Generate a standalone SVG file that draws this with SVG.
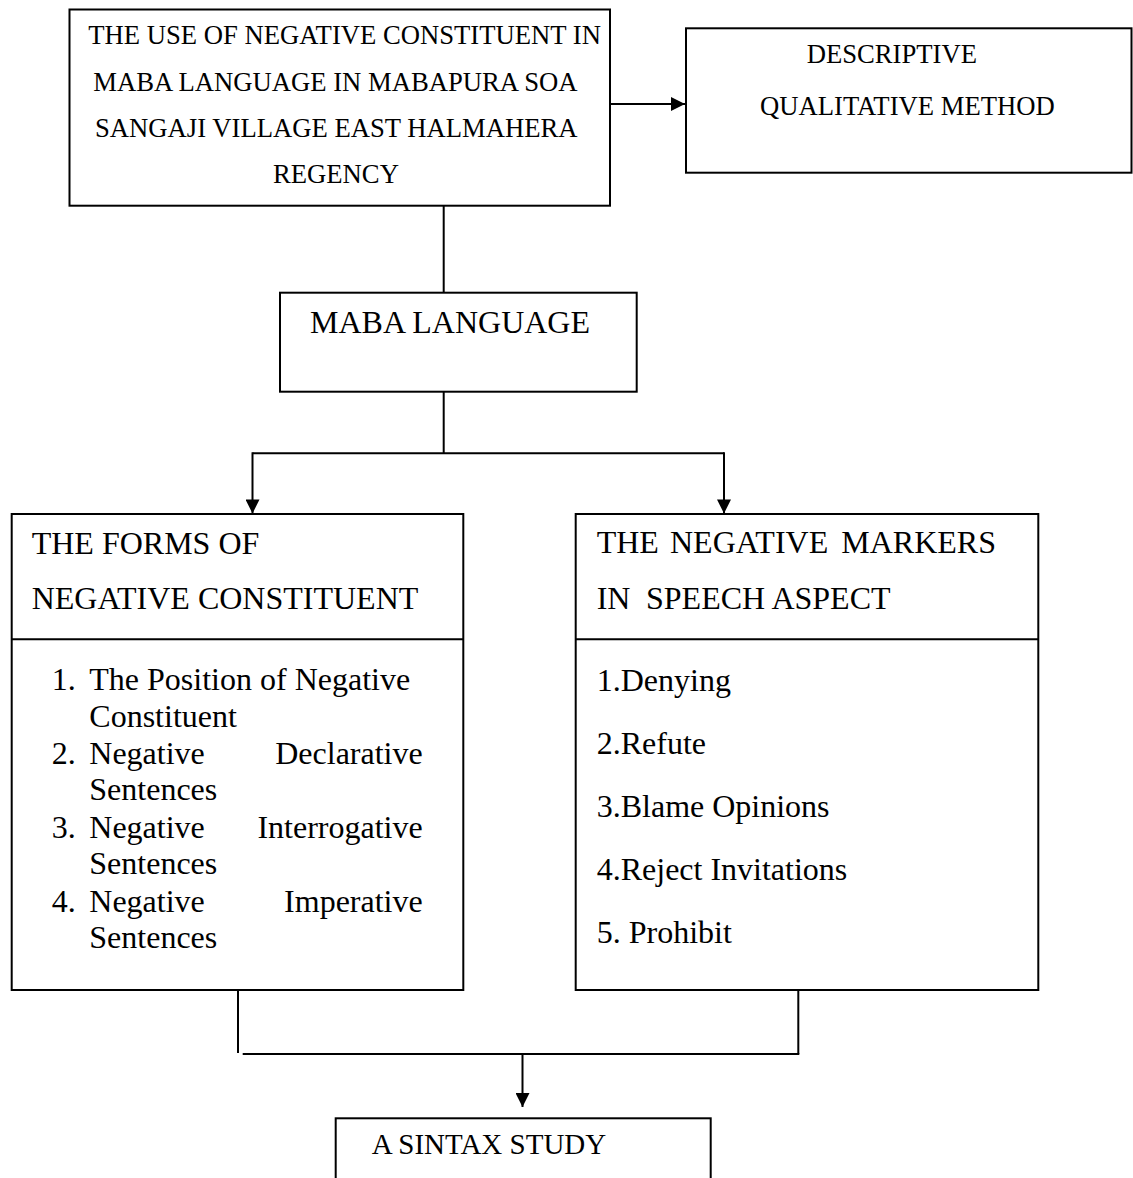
<svg xmlns="http://www.w3.org/2000/svg" width="1133" height="1178" viewBox="0 0 1133 1178">
<style>
text{font-family:"Liberation Serif","Times New Roman",serif;fill:#000}
.box{fill:#fff;stroke:#000;stroke-width:2}
.ln{fill:none;stroke:#000;stroke-width:2}
.t20{font-size:26.67px}
.t24{font-size:32px}
.t22{font-size:29px}
</style>
<defs>
<marker id="arr" viewBox="0 0 10 10" refX="10" refY="5" markerWidth="15" markerHeight="14" markerUnits="userSpaceOnUse" orient="auto">
<path d="M0,0 L10,5 L0,10 Z" fill="#000"/>
</marker>
</defs>
<rect width="1133" height="1178" fill="#fff"/>
<g id="connectors">
<line class="ln" x1="610" y1="104" x2="685" y2="104" marker-end="url(#arr)"/>
<line class="ln" x1="443.7" y1="205.7" x2="443.7" y2="292.7"/>
<line class="ln" x1="443.7" y1="391.7" x2="443.7" y2="453.3"/>
<line class="ln" x1="252.5" y1="453.3" x2="724" y2="453.3"/>
<line class="ln" x1="252.5" y1="452.3" x2="252.5" y2="513.5" marker-end="url(#arr)"/>
<line class="ln" x1="724" y1="452.3" x2="724" y2="513.5" marker-end="url(#arr)"/>
<line class="ln" x1="238" y1="990" x2="238" y2="1053"/>
<line class="ln" x1="798.3" y1="990" x2="798.3" y2="1054"/>
<line class="ln" x1="242.7" y1="1054" x2="799.3" y2="1054"/>
<line class="ln" x1="522.5" y1="1054" x2="522.5" y2="1107" marker-end="url(#arr)"/>
</g>
<g id="node-title">
<rect class="box" x="69.5" y="9.5" width="540.5" height="196.2"/>
<text class="t20" x="88.3" y="44">THE USE OF NEGATIVE CONSTITUENT IN</text>
<text class="t20" x="93.3" y="90.7">MABA LANGUAGE IN MABAPURA SOA</text>
<text class="t20" x="95" y="137">SANGAJI VILLAGE EAST HALMAHERA</text>
<text class="t20" x="273" y="182.7">REGENCY</text>
</g>
<g id="node-method">
<rect class="box" x="686" y="28.3" width="445.5" height="144.4"/>
<text class="t20" x="806.7" y="63.3">DESCRIPTIVE</text>
<text class="t20" x="760" y="115">QUALITATIVE METHOD</text>
</g>
<g id="node-maba">
<rect class="box" x="280" y="292.7" width="356.7" height="99"/>
<text class="t24" x="310" y="332.7">MABA LANGUAGE</text>
</g>
<g id="node-forms">
<rect class="box" x="11.7" y="514" width="451.6" height="476"/>
<line class="ln" x1="11.7" y1="639.3" x2="463.3" y2="639.3"/>
<text class="t24" x="31.7" y="554">THE FORMS OF</text>
<text class="t24" x="31.7" y="609.3">NEGATIVE CONSTITUENT</text>
<text class="t24" x="51.7" y="690">1.</text>
<text class="t24" x="89.3" y="690">The Position of Negative</text>
<text class="t24" x="89.3" y="726.7">Constituent</text>
<text class="t24" x="51.7" y="764">2.</text>
<text class="t24" x="89.3" y="764">Negative</text>
<text class="t24" x="422.7" y="764" text-anchor="end">Declarative</text>
<text class="t24" x="89.3" y="800">Sentences</text>
<text class="t24" x="51.7" y="838.3">3.</text>
<text class="t24" x="89.3" y="838.3">Negative</text>
<text class="t24" x="422.7" y="838.3" text-anchor="end">Interrogative</text>
<text class="t24" x="89.3" y="874.3">Sentences</text>
<text class="t24" x="51.7" y="912.3">4.</text>
<text class="t24" x="89.3" y="912.3">Negative</text>
<text class="t24" x="422.7" y="912.3" text-anchor="end">Imperative</text>
<text class="t24" x="89.3" y="948.3">Sentences</text>
</g>
<g id="node-markers">
<rect class="box" x="575.7" y="514" width="462.6" height="476"/>
<line class="ln" x1="575.7" y1="639.3" x2="1038.3" y2="639.3"/>
<text class="t24" y="553.3"><tspan x="596.7">THE</tspan><tspan x="670">NEGATIVE</tspan><tspan x="996" text-anchor="end">MARKERS</tspan></text>
<text class="t24" y="609.3"><tspan x="596.7">IN</tspan><tspan x="646">SPEECH ASPECT</tspan></text>
<text class="t24" x="596.7" y="690.7">1.Denying</text>
<text class="t24" x="596.7" y="754">2.Refute</text>
<text class="t24" x="596.7" y="816.7">3.Blame Opinions</text>
<text class="t24" x="596.7" y="880">4.Reject Invitations</text>
<text class="t24" x="596.7" y="943.3">5. Prohibit</text>
</g>
<g id="node-syntax">
<rect class="box" x="335.7" y="1118.3" width="375" height="80"/>
<text class="t22" x="371.7" y="1154.3">A SINTAX STUDY</text>
</g>
</svg>
